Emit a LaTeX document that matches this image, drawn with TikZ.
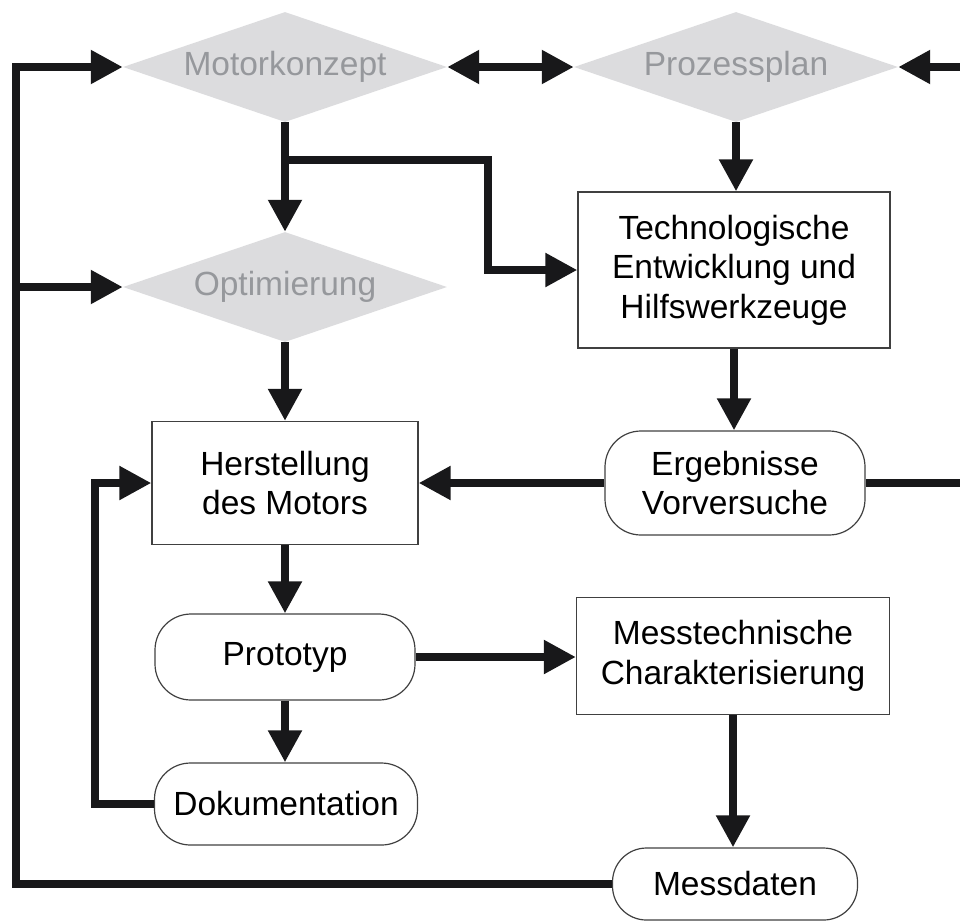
\documentclass[tikz,border=0pt]{standalone}
\usepackage{fontspec}
\setmainfont{Liberation Sans}
\usepackage{tikz}
\usetikzlibrary{arrows.meta,shapes.geometric}

\definecolor{linie}{RGB}{24,24,26}
\definecolor{rautegrau}{RGB}{220,220,222}
\definecolor{rautetext}{RGB}{150,152,156}

\begin{document}
\begin{tikzpicture}[x=1pt,y=-1pt,
    raute/.style={diamond, fill=rautegrau, text=rautetext, inner sep=0pt, aspect=3,
        minimum width=324pt, minimum height=110pt},
    kasten/.style={rectangle, draw=black!75, line width=1.2pt, align=center, inner sep=0pt},
    rund/.style={kasten, rounded corners=36pt},
    fluss/.style={draw=linie, line width=8.5pt, -{Triangle[length=32pt,width=32pt]}},
    doppel/.style={fluss, {Triangle[length=32pt,width=32pt]}-{Triangle[length=32pt,width=32pt]}},
    linie/.style={draw=linie, line width=8.5pt}]
  \useasboundingbox (0,0) rectangle (960,921);
  \fontsize{33.5}{39.5}\selectfont

  % Rauten oben
  \node[raute] (mk)  at (285,67)  {Motorkonzept};
  \node[raute] (pp)  at (736,67)  {Prozessplan};
  \node[raute] (opt) at (285,287) {Optimierung};

  % Kaesten
  \node[kasten, minimum width=312pt, minimum height=156pt] (tech) at (734,270)
    {Technologische\\Entwicklung und\\Hilfswerkzeuge};
  \node[kasten, minimum width=266pt, minimum height=123pt] (her) at (285,483)
    {Herstellung\\des Motors};
  \node[rund, minimum width=260pt, minimum height=104pt] (erg) at (735,483)
    {Ergebnisse\\Vorversuche};
  \node[rund, minimum width=260pt, minimum height=86pt] (proto) at (285,657) {Prototyp};
  \node[kasten, minimum width=313pt, minimum height=117pt] (mess) at (733,656)
    {Messtechnische\\Charakterisierung};
  \node[rund, minimum width=263pt, minimum height=82pt] (doku) at (286,804) {Dokumentation};
  \node[rund, minimum width=245pt, minimum height=72pt, rounded corners=34pt] (md) at (735,884) {Messdaten};

  % Hilfspunkte
  \coordinate (schleifeU) at (16,884);
  \coordinate (schleifeM) at (16,287);
  \coordinate (abzweig) at (285,160);
  \coordinate (abzweigR) at (488,160);
  \coordinate (rueckD) at (95,804);
  \coordinate (rechtsO) at (960,67);
  \coordinate (rechtsM) at (960,483);

  % Verbindungen
  \draw[doppel] (mk.east) -- (pp.west);
  \draw[fluss] (rechtsO) -- (pp.east);
  \draw[fluss] (mk.south) -- (opt.north);
  \draw[fluss] (abzweig) -- (abzweigR) |- (tech.west);
  \draw[fluss] (pp.south) -- (pp.south |- tech.north);
  \draw[fluss] (tech.south) -- (tech.south |- erg.north);
  \draw[fluss] (erg.west) -- (erg.west -| her.east);
  \draw[linie] (erg.east) -- (rechtsM);
  \draw[fluss] (opt.south) -- (her.north);
  \draw[fluss] (her.south) -- (proto.north);
  \draw[fluss] (proto.east) -- (proto.east -| mess.west);
  \draw[fluss] (proto.south) -- (proto.south |- doku.north);
  \draw[fluss] (doku.west) -- (rueckD) |- (her.west);
  \draw[fluss] (mess.south) -- (mess.south |- md.north);
  \draw[fluss] (md.west) -- (schleifeU) |- (mk.west);
  \draw[fluss] (schleifeM) -- (opt.west);
\end{tikzpicture}
\end{document}
